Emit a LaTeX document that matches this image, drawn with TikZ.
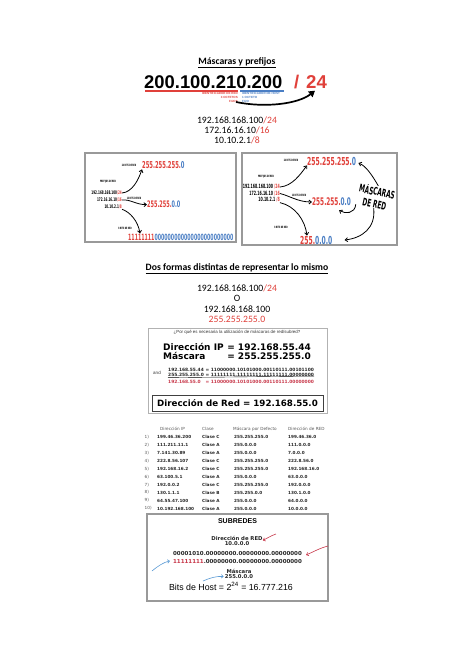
\documentclass[tikz,border=0pt]{standalone}
\usepackage{fontspec}
\setmainfont{Carlito}
\newfontfamily\arial{Liberation Sans}
\newfontfamily\dv{DejaVu Sans}
\newfontfamily\imp[FakeStretch=0.55]{DejaVu Sans}
\usetikzlibrary{arrows.meta}
\definecolor{rojo}{HTML}{E0403A}
\definecolor{azul}{HTML}{4A7EC4}
\definecolor{rojob}{HTML}{C8384A}
\definecolor{azulb}{HTML}{5B9BD5}
\newcommand{\fs}[1]{\fontsize{#1}{#1}\selectfont}
\begin{document}
\begin{tikzpicture}[x=1pt,y=-1pt,
  txt/.style={inner sep=0pt,font=\fs{9.7}},
  lbl/.style={inner sep=0pt,font=\imp\bfseries\fs{3}},
  hip/.style={inner sep=0pt,anchor=east},
  msk/.style={inner sep=0pt,anchor=west},
  frame/.style={draw=gray!80,line width=1.3pt},
  framethin/.style={draw=gray!60,line width=0.9pt},
  harrow/.style={-{Straight Barb[length=2.5pt,width=4pt]},line width=0.8pt},
  big/.style={inner sep=0pt,font=\dv\bfseries\fs{9}},
  bin/.style={inner sep=0pt,font=\dv\bfseries\fs{4.4},text=black!85},
  th/.style={inner sep=0pt,anchor=west,font=\dv\fs{4.2},text=black!65},
  td/.style={inner sep=0pt,anchor=west,font=\dv\bfseries\fs{4.2},text=black!85},
  sb/.style={inner sep=0pt,font=\dv\bfseries\fs{5.3},text=black!85},
  sbin/.style={inner sep=0pt,font=\dv\bfseries\fs{5.5},text=black!85},
  tred/.style={draw=rojob,line width=0.6pt,-{Straight Barb[length=2pt,width=3.5pt]}},
  tblue/.style={draw=azulb,line width=0.6pt,-{Straight Barb[length=2pt,width=3.5pt]}}]
\useasboundingbox[fill=white] (0,0) rectangle (474,670);

% ---- Section 1
\node[txt,font=\bfseries\fs{9.7}] (t1) at (237,63) {\underline{Máscaras y prefijos}};
\node[inner sep=0pt,anchor=west,font=\arial\bfseries\fs{18.4}] (bign) at (144,82) {200.100.210.200};
\node[inner sep=0pt,anchor=west,font=\arial\bfseries\fs{18.4},text=rojo] (slash) at (294,82) {/};
\node[inner sep=0pt,anchor=west,font=\arial\bfseries\fs{18.6},text=rojo] (p24) at (306,82) {24};
\draw[rojo,line width=1.5pt] (145,91) -- (238,91);
\draw[azul,line width=1.5pt] (240,91) -- (284,91);
\node[inner sep=0pt,anchor=north east,align=right,text=rojo,font=\arial\bfseries\fontsize{3}{3.8}\selectfont] (idr) at (238,92.5) {IDENTIFICADOR DE RED\\3 OCTETOS\\FIJOS};
\node[inner sep=0pt,anchor=north west,align=left,text=azul,font=\arial\bfseries\fontsize{3}{3.8}\selectfont] (idh) at (242,92.5) {IDENTIFICADOR DE HOST\\1 OCTETO\\FIJO};
\coordinate (sa) at (236,102);
\draw[line width=1.7pt,-{Triangle[length=6pt,width=7pt]}] (sa) .. controls (265,108) and (298,104) .. ([shift={(9,2)}]p24.south west);

\node[txt] (ip1) at (237,120) {192.168.168.100\textcolor{rojo}{/24}};
\node[txt] (ip2) at (237,130) {172.16.16.10\textcolor{rojo}{/16}};
\node[txt] (ip3) at (237,140) {10.10.2.1\textcolor{rojo}{/8}};

% ---- Left box
\draw[frame] (85,153) rectangle (236,242);
\node[lbl] (l24) at (129,165) {24 BITS DE RED};
\node[msk,font=\imp\bfseries\fs{9.5}] (lm1) at (142,165.5) {\textcolor{rojo}{255.255.255.}\textcolor{azul}{0}};
\node[lbl] (lpre) at (108,182) {PREFIJOS DE RED};
\node[hip,font=\imp\bfseries\fs{4.9}] (lip1) at (122,193) {192.168.168.100\textcolor{rojo}{/24}};
\node[hip,font=\imp\bfseries\fs{4.9}] (lip2) at (122,200) {172.16.16.10\textcolor{rojo}{/16}};
\node[hip,font=\imp\bfseries\fs{4.9}] (lip3) at (122,207) {10.10.2.1\textcolor{rojo}{/8}};
\node[lbl] (l16) at (134,198) {16 BITS DE RED};
\node[msk,font=\imp\bfseries\fs{9}] (lm2) at (147,204.5) {\textcolor{rojo}{255.255.}\textcolor{azul}{0.0}};
\node[lbl] (l8) at (125,228) {8 BITS DE RED};
\node[msk,font=\imp\bfseries\fs{8.6}] (lbin) at (128,237) {\textcolor{rojo}{11111111}\textcolor{azul}{000000000000000000000000}};
\draw[harrow] (lip1.east) .. controls (132,192) and (138,181) .. (lm1.south west);
\draw[harrow] (lip2.east) .. controls (130,199) and (137,205) .. (lm2.west);
\draw[harrow] (lip3.south east) .. controls (130,212) and (138,221) .. ([xshift=12]lbin.north west);

% ---- Right box
\draw[frame] (242,153) rectangle (397,245);
\node[lbl] (r24) at (291,160) {24 BITS DE RED};
\node[msk,font=\imp\bfseries\fs{11}] (rm1) at (307,161) {\textcolor{rojo}{255.255.255.}\textcolor{azul}{0}};
\node[lbl] (rpre) at (266,177) {PREFIJOS DE RED};
\node[hip,font=\imp\bfseries\fs{5.8}] (rip1) at (280,187) {192.168.168.100 \textcolor{rojo}{/24}};
\node[hip,font=\imp\bfseries\fs{5.8}] (rip2) at (280,193.5) {172.16.16.10 \textcolor{rojo}{/16}};
\node[hip,font=\imp\bfseries\fs{5.8}] (rip3) at (280,200) {10.10.2.1 \textcolor{rojo}{/8}};
\node[lbl] (r16) at (299,195) {16 BITS DE RED};
\node[msk,font=\imp\bfseries\fs{10.5}] (rm2) at (312,202) {\textcolor{rojo}{255.255.}\textcolor{azul}{0.0}};
\node[lbl] (r8) at (281,227) {8 BITS DE RED};
\node[msk,font=\imp\bfseries\fs{11}] (rm3) at (300,240) {\textcolor{rojo}{255.}\textcolor{azul}{0.0.0}};
\node[inner sep=0pt,align=center,rotate=-12,font=\imp\bfseries\fontsize{10.5}{12.5}\selectfont] (mas) at (376,197) {MÁSCARAS\\DE RED};
\draw[harrow] (rip1.east) .. controls (292,186) and (300,175) .. (rm1.south west);
\draw[harrow] (rip2.east) .. controls (290,196) and (298,202) .. (rm2.west);
\draw[harrow] (rip3.south east) .. controls (295,206) and (305,220) .. ([xshift=7]rm3.north west);
\draw[harrow] (mas.north) .. controls (372,175) and (366,166) .. ([shift={(2,2)}]rm1.east);
\draw[harrow] (mas.south west) .. controls (355,214) and (345,214) .. ([shift={(-12,4)}]rm2.south east);
\draw[harrow] (mas.south) .. controls (376,228) and (362,238) .. ([xshift=12]rm3.east);

% ---- Section 2
\node[txt,font=\bfseries\fs{9.7}] (t2) at (237,269) {\underline{Dos formas distintas de representar lo mismo}};
\node[txt] (f1) at (237,288) {192.168.168.100\textcolor{rojo}{/24}};
\node[txt] (f2) at (237,298.5) {O};
\node[txt] (f3) at (237,309) {192.168.168.100};
\node[txt,text=rojo] (f4) at (237,319.5) {255.255.255.0};

% ---- IP / mask box
\draw[framethin] (148,328) rectangle (327,413);
\node[inner sep=0pt,font=\arial\fs{4.4},text=black!80] (q) at (237,332) {¿Por qué es necesaria la utilización de máscaras de red/subred?};
\node[big,anchor=base west] (dipl) at (163,350.3) {Dirección IP};
\node[big,anchor=base west] (dipv) at ([xshift=3.2]dipl.base east) {= 192.168.55.44};
\node[big,anchor=base west] (mskl) at (163,359) {Máscara};
\node[big,anchor=base west] (mskv) at (dipv.base west |- mskl.base) {= 255.255.255.0};
\node[inner sep=0pt,font=\arial\fs{4.5},text=black!80] (andw) at (157,373) {and};
\node[bin,anchor=west] (b1l) at (168,370) {192.168.55.44};
\node[bin,anchor=west] (b1r) at (205.5,370) {= 11000000.10101000.00110111.00101100};
\node[bin,anchor=west] (b2l) at (168,375) {255.255.255.0};
\node[bin,anchor=west] (b2r) at (205.5,375) {= 11111111.11111111.11111111.00000000};
\draw[line width=0.4pt] (b2l.south west) ++(0,0.8) -- ([yshift=0.8]b2r.south east);
\node[bin,anchor=west,text=rojob] (b3l) at (168,382) {192.168.55.0};
\node[bin,anchor=west,text=rojob] (b3r) at (205.5,382) {= 11000000.10101000.00110111.00000000};
\draw[draw=black!75,line width=1pt] (152,395) rectangle (323,411);
\node[big,font=\dv\bfseries\fs{8.7}] (dred) at (237.5,403) {Dirección de Red = 192.168.55.0};

% ---- Table
\node[th] (h1) at (160,429) {Dirección IP};
\node[th] (h2) at (202,429) {Clase};
\node[th] (h3) at (233,429) {Máscara por Defecto};
\node[th] (h4) at (288,429) {Dirección de RED};
\foreach \ipx/\clx/\mx/\rx [count=\i] in {
 199.46.36.200/Clase C/255.255.255.0/199.46.36.0,
 111.211.11.1/Clase A/255.0.0.0/111.0.0.0,
 7.141.30.89/Clase A/255.0.0.0/7.0.0.0,
 222.8.56.107/Clase C/255.255.255.0/222.8.56.0,
 192.168.16.2/Clase C/255.255.255.0/192.168.16.0,
 63.100.5.1/Clase A/255.0.0.0/63.0.0.0,
 192.0.0.2/Clase C/255.255.255.0/192.0.0.0,
 130.1.1.1/Clase B/255.255.0.0/130.1.0.0,
 64.55.47.100/Clase A/255.0.0.0/64.0.0.0,
 10.192.168.100/Clase A/255.0.0.0/10.0.0.0}{
  \pgfmathsetmacro\yy{437+(\i-1)*7.95}
  \node[th] (n\i) at (144.5,\yy) {\i)};
  \node[td] (ip\i) at (157,\yy) {\ipx};
  \node[td] (cl\i) at (202,\yy) {\clx};
  \node[td] (mk\i) at (234,\yy) {\mx};
  \node[td] (rd\i) at (288,\yy) {\rx};
}

% ---- SUBREDES
\draw[frame] (147,514) rectangle (328,601);
\node[inner sep=0pt,font=\arial\bfseries\fs{7}] (sub) at (237.5,521) {SUBREDES};
\node[sb] (sdr) at (237,538) {Dirección de RED};
\node[sb] (sdv) at (237,543.5) {10.0.0.0};
\node[sbin] (sb1) at (237.5,553) {00001010.00000000.00000000.00000000};
\node[sbin] (sb2) at (237.5,561) {\textcolor{rojob}{11111111}.00000000.00000000.00000000};
\node[sb] (smk) at (239,571) {Máscara};
\node[sb] (smv) at (239,576.5) {255.0.0.0};
\node[inner sep=0pt,font=\arial\fs{8.8}] (bits) at (231,586.5) {Bits de Host = 2\textsuperscript{24} = 16.777.216};
\coordinate (ra1) at (276,534);
\coordinate (ra2) at (328,546);
\coordinate (ba1) at (152,571);
\coordinate (ba2) at (203,581);
\draw[tred] (ra1) .. controls (270,536) and (266,539) .. (sdr.south east);
\draw[tred] (ra2) .. controls (320,548) and (313,552) .. ([shift={(4,2)}]sb1.east);
\draw[tblue] (ba1) .. controls (158,566) and (164,562) .. ([xshift=-3]sb2.west);
\draw[tblue] (ba2) .. controls (210,578) and (216,576) .. ([xshift=-1]smv.west);
\end{tikzpicture}
\end{document}
